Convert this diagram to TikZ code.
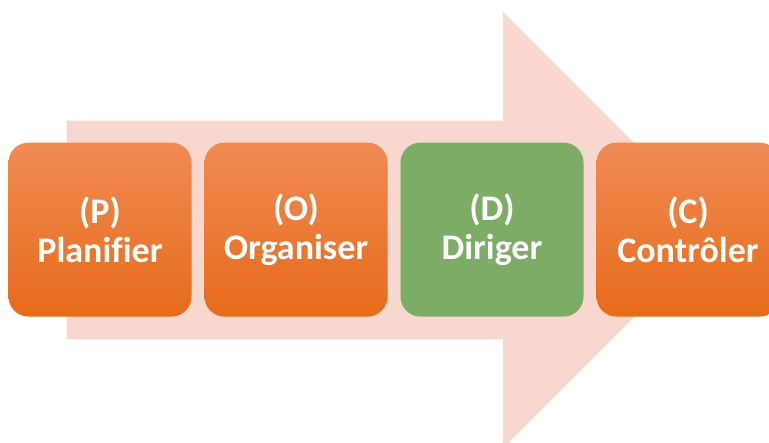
\documentclass[tikz,border=0pt]{standalone}
\usepackage{fontspec}
\setmainfont[Ligatures=NoCommon]{Carlito}
\definecolor{arrowfill}{HTML}{F8D8CE}
\definecolor{orangetop}{HTML}{F08B53}
\definecolor{orangemid}{HTML}{F47E2F}
\definecolor{orangebot}{HTML}{E66B19}
\definecolor{stepgreen}{HTML}{7DAC67}
\tikzset{
  stagebox/.style={rounded corners=20pt, minimum width=183pt, minimum height=174pt,
    inner sep=0pt, align=center, text=white,
    font=\fontsize{36}{39}\selectfont\bfseries},
  orangebox/.style={stagebox, top color=orangetop, middle color=orangemid, bottom color=orangebot},
  greenbox/.style={stagebox, fill=stepgreen}
}
\begin{document}
\begin{tikzpicture}[x=1pt, y=-1pt]
  \useasboundingbox (0,0) rectangle (769,443);
  \clip (0,0) rectangle (769,443);
  % background block arrow
  \fill[arrowfill] (66.7,120.7) -- (503,120.7) -- (503,12) -- (721,230)
    -- (503,448) -- (503,339.5) -- (66.7,339.5) -- cycle;
  % the four stages
  \node[orangebox] (p) at (100,229.6) {(P)\\Planifier};
  \node[orangebox] (o) at (296,229.6) {(O)\\Organiser};
  \node[greenbox]  (d) at (492,229.6) {(D)\\Diriger};
  \node[orangebox] (c) at (688,229.6) {(C)\\Contrôler};
\end{tikzpicture}
\end{document}
